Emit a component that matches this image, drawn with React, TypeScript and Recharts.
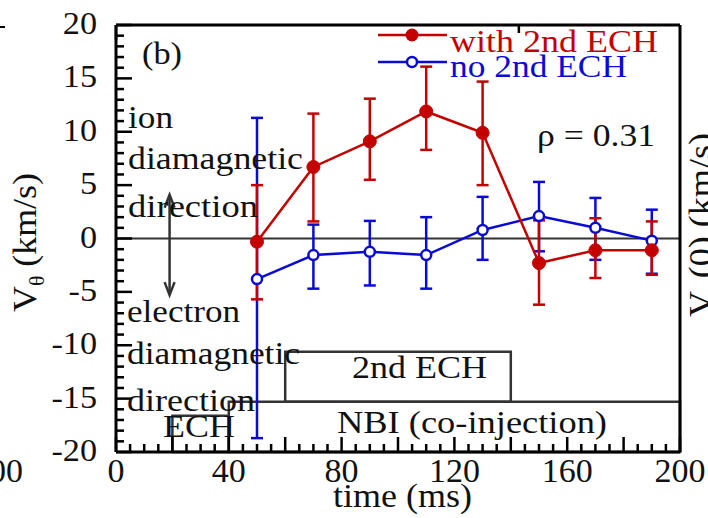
import React from 'react';
import { ComposedChart, Line, XAxis, YAxis, ErrorBar, ReferenceLine, ReferenceArea } from 'recharts';

const RED = '#c40000';
const BLUE = '#0a0ad8';
const INK = '#111';
const GRAY = '#333';
const FONT = 'Liberation Serif, Times New Roman, DejaVu Serif, serif';

// time (ms) of each measurement
const times = [50, 70, 90, 110, 130, 150, 170, 190];

// with 2nd ECH: value, lower / upper error
const withEch = [-0.3, 6.7, 9.1, 11.9, 9.9, -2.3, -1.1, -1.1];
const withEchLow = [5.4, 5.1, 3.6, 3.6, 4.9, 3.9, 2.6, 2.3];
const withEchHigh = [5.3, 5.0, 4.0, 4.2, 4.8, 4.0, 3.0, 2.7];

// no 2nd ECH
const noEch = [-3.8, -1.55, -1.25, -1.55, 0.8, 2.1, 1.0, -0.2];
const noEchLow = [14.9, 3.15, 3.15, 3.15, 2.8, 3.3, 3.0, 3.1];
const noEchHigh = [15.1, 2.85, 2.9, 3.55, 3.1, 3.2, 2.8, 2.9];

const xLabels = [0, 40, 80, 120, 160, 200];
const yLabels = [-20, -15, -10, -5, 0, 5, 10, 15, 20];

// minor tick positions
const xTicks = Array.from({ length: 41 }, (_, i) => i * 5);
const yTicks = Array.from({ length: 41 }, (_, i) => i - 20);

const rows = times.map((t, i) => ({
  t,
  withEch: withEch[i],
  withErr: [withEchLow[i], withEchHigh[i]],
  noEch: noEch[i],
  noErr: [noEchLow[i], noEchHigh[i]],
}));

const axisLine = { stroke: '#000', strokeWidth: 3 };
const serif = { fontFamily: FONT };

function BottomTick({ x, y, payload }: any) {
  const v = payload.value;
  const len = v % 20 === 0 ? 15 : 8;
  return (
    <g>
      <line x1={x} y1={y} x2={x} y2={y - len} stroke="#000" strokeWidth={2.5} />
      {xLabels.includes(v) && (
        <text x={x} y={y + 30} textAnchor="middle" fontSize={34} style={serif} fill={INK}>{v}</text>
      )}
    </g>
  );
}

function TopTick({ x, y, payload }: any) {
  const len = payload.value % 20 === 0 ? 15 : 8;
  return <line x1={x} y1={y} x2={x} y2={y + len} stroke="#000" strokeWidth={2.5} />;
}

function LeftTick({ x, y, payload }: any) {
  const v = payload.value;
  const len = v % 5 === 0 ? 16 : 8;
  return (
    <g>
      <line x1={x} y1={y} x2={x + len} y2={y} stroke="#000" strokeWidth={2.5} />
      {yLabels.includes(v) && (
        <text transform={`translate(${x - 19},${y + 9}) scale(1.07,1)`} textAnchor="end" fontSize={32} style={serif} fill={INK}>{v}</text>
      )}
    </g>
  );
}

function RightTick({ x, y, payload }: any) {
  const len = payload.value % 5 === 0 ? 16 : 8;
  return <line x1={x} y1={y} x2={x - len} y2={y} stroke="#000" strokeWidth={2.5} />;
}

function Arrow(p: any) {
  const { x1, y1, x2, y2 } = p;
  const top = Math.min(y1, y2);
  const bot = Math.max(y1, y2);
  return (
    <g stroke={GRAY} strokeWidth={2.5} fill="none">
      <line x1={x1} y1={top} x2={x2} y2={bot} />
      <polyline points={`${x1 - 5},${top + 13} ${x1},${top} ${x1 + 5},${top + 13}`} />
      <polyline points={`${x1 - 5},${bot - 13} ${x1},${bot} ${x1 + 5},${bot - 13}`} />
    </g>
  );
}

function Note({ x, y, w, size = 31, color = INK, children }: any) {
  return (
    <text x={x} y={y} fontSize={size} style={serif} fill={color} textLength={w} lengthAdjust="spacingAndGlyphs">
      {children}
    </text>
  );
}

export default function App() {
  return (
    <div style={{ position: 'absolute', left: 0, top: 0, width: 708, height: 518, background: '#fff', fontFamily: FONT }}>
      <ComposedChart width={708} height={518} data={rows} margin={{ top: 20, right: 0, bottom: 0, left: 56 }}>
        <XAxis xAxisId="b" dataKey="t" type="number" domain={[0, 200]} ticks={xTicks} interval={0}
          tickLine={false} tickSize={0} tickMargin={0} tick={BottomTick} height={66} axisLine={axisLine} />
        <XAxis xAxisId="top" orientation="top" type="number" domain={[0, 200]} ticks={xTicks} interval={0}
          tickLine={false} tickSize={0} tickMargin={0} tick={TopTick} height={5} axisLine={axisLine} />
        <YAxis yAxisId="l" type="number" domain={[-20, 20]} allowDataOverflow ticks={yTicks} interval={0}
          tickLine={false} tickSize={0} tickMargin={0} tick={LeftTick} width={60} axisLine={axisLine} />
        <YAxis yAxisId="r" orientation="right" type="number" domain={[-20, 20]} ticks={yTicks} interval={0}
          tickLine={false} tickSize={0} tickMargin={0} tick={RightTick} width={28} axisLine={axisLine} />

        <ReferenceArea xAxisId="b" yAxisId="l" x1={40} x2={200} y1={-20} y2={-15.3} fill="none" fillOpacity={0} stroke={GRAY} strokeWidth={2.5} />
        <ReferenceArea xAxisId="b" yAxisId="l" x1={20} x2={40} y1={-20} y2={-16.6} fill="none" fillOpacity={0} stroke={GRAY} strokeWidth={2.5} />
        <ReferenceArea xAxisId="b" yAxisId="l" x1={60} x2={140} y1={-15.3} y2={-10.6} fill="none" fillOpacity={0} stroke={GRAY} strokeWidth={2.5} />
        <ReferenceLine xAxisId="b" yAxisId="l" y={0} stroke={GRAY} strokeWidth={2} />
        <ReferenceLine xAxisId="b" yAxisId="l" segment={[{ x: 19, y: 4.1 }, { x: 19, y: -5.3 }]} shape={Arrow} />

        <Line xAxisId="b" yAxisId="l" dataKey="noEch" stroke={BLUE} strokeWidth={2.5} isAnimationActive={false}
          dot={{ r: 5, fill: '#fff', stroke: BLUE, strokeWidth: 2.5 }}>
          <ErrorBar dataKey="noErr" direction="y" width={6} stroke={BLUE} strokeWidth={2.5} isAnimationActive={false} />
        </Line>
        <Line xAxisId="b" yAxisId="l" dataKey="withEch" stroke={RED} strokeWidth={2.5} isAnimationActive={false}
          dot={{ r: 6.5, fill: RED, stroke: RED, strokeWidth: 1 }}>
          <ErrorBar dataKey="withErr" direction="y" width={6} stroke={RED} strokeWidth={2.5} isAnimationActive={false} />
        </Line>
      </ComposedChart>

      <svg width={708} height={518} style={{ position: 'absolute', left: 0, top: 0, pointerEvents: 'none' }}>
        <Note x={142} y={64} w={40}>(b)</Note>
        <Note x={128} y={128} w={45}>ion</Note>
        <Note x={128} y={169} w={175}>diamagnetic</Note>
        <Note x={128} y={217} w={130}>direction</Note>
        <Note x={127} y={322} w={113}>electron</Note>
        <Note x={127} y={364} w={173}>diamagnetic</Note>
        <Note x={127} y={411} w={128}>direction</Note>
        <Note x={163} y={437} w={72}>ECH</Note>
        <Note x={352} y={378} w={135}>2nd ECH</Note>
        <Note x={337} y={433} w={270}>NBI (co-injection)</Note>
        <Note x={537} y={146} w={118}>ρ = 0.31</Note>

        <line x1={378} y1={35} x2={447} y2={35} stroke={RED} strokeWidth={2.5} />
        <circle cx={412} cy={35} r={6.5} fill={RED} />
        <Note x={450} y={52} w={208} size={32} color={RED}>with 2nd ECH</Note>
        <line x1={378} y1={62} x2={447} y2={62} stroke={BLUE} strokeWidth={2.5} />
        <circle cx={412} cy={62} r={5} fill="#fff" stroke={BLUE} strokeWidth={2.5} />
        <Note x={450} y={77} w={177} size={32} color={BLUE}>no 2nd ECH</Note>

        <Note x={333} y={507} w={139} size={33}>time (ms)</Note>

        <text transform="translate(36,312) rotate(-90)" fontSize={33} style={serif} fill={INK}
          textLength={139} lengthAdjust="spacingAndGlyphs">
          V<tspan fontSize={20} dy={8}>θ</tspan><tspan dy={-8}> (km/s)</tspan>
        </text>
        <text transform="translate(712,317) rotate(-90)" fontSize={33} style={serif} fill={INK}
          textLength={184} lengthAdjust="spacingAndGlyphs">
          V<tspan fontSize={20} dy={8}>φ</tspan><tspan dy={-8}>(0) (km/s)</tspan>
        </text>

        <text x={23} y={482} textAnchor="end" fontSize={34} style={serif} fill={INK}>200</text>
        <line x1={0} y1={27} x2={5} y2={27} stroke="#000" strokeWidth={2} />
      </svg>
    </div>
  );
}
